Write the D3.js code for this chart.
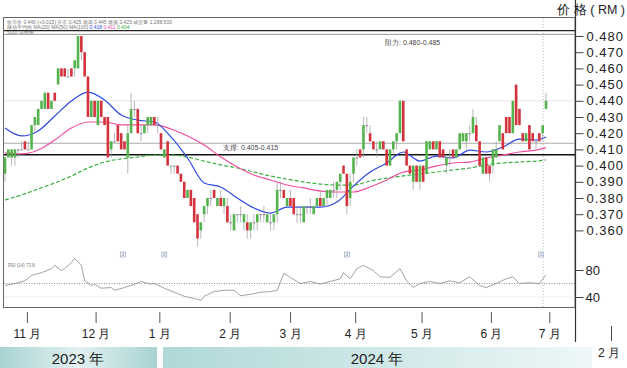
<!DOCTYPE html>
<html><head><meta charset="utf-8">
<script src="https://cdn.jsdelivr.net/npm/d3@7"></script>
<style>
body{margin:0;background:#fff}
svg{display:block}
text{font-family:"Liberation Sans",Arial,sans-serif}
</style>
</head><body>
<svg id="c" width="627" height="368"></svg>
<script>
// ---------- DATA ----------
const openP  = [.395,.405,.405,.405,.41,.41,.415,.41,.41,.425,.425,.435,.435,.445,.435,.445,.45,.46,.46,.455,.46,.46,.46,.48,.47,.455,.43,.44,.425,.44,.43,.43,.41,.415,.425,.42,.415,.405,.42,.435,.435,.42,.42,.425,.425,.43,.425,.42,.405,.415,.40,.40,.40,.395,.39,.38,.385,.38,.37,.36,.37,.375,.38,.385,.375,.38,.375,.375,.365,.36,.37,.37,.365,.365,.36,.365,.365,.37,.37,.365,.365,.365,.37,.385,.385,.375,.38,.38,.37,.37,.365,.375,.375,.37,.375,.38,.375,.38,.38,.385,.385,.39,.40,.395,.38,.395,.405,.41,.41,.425,.42,.415,.41,.41,.415,.41,.40,.41,.415,.42,.44,.41,.40,.39,.40,.39,.40,.395,.41,.415,.41,.415,.41,.40,.405,.41,.405,.41,.415,.415,.42,.42,.425,.415,.395,.405,.40,.40,.405,.415,.42,.43,.43,.42,.45,.435,.42,.415,.425,.42,.415,.42,.42,.435];
const highP  = [.405,.41,.41,.41,.41,.415,.415,.415,.425,.43,.435,.44,.445,.445,.44,.445,.46,.46,.46,.46,.46,.465,.48,.48,.47,.455,.44,.44,.44,.44,.43,.43,.415,.42,.425,.42,.415,.425,.445,.44,.435,.425,.425,.43,.43,.43,.43,.42,.41,.415,.40,.40,.40,.395,.39,.385,.385,.38,.37,.365,.375,.38,.385,.385,.38,.385,.38,.38,.37,.37,.37,.375,.37,.37,.365,.37,.37,.37,.375,.37,.37,.37,.39,.39,.385,.38,.385,.38,.375,.375,.375,.375,.38,.375,.38,.385,.38,.385,.385,.39,.39,.395,.40,.395,.395,.405,.41,.41,.43,.43,.425,.415,.415,.415,.415,.41,.41,.415,.42,.44,.44,.41,.40,.40,.40,.40,.40,.415,.415,.415,.415,.415,.41,.405,.41,.41,.41,.42,.42,.42,.425,.435,.43,.415,.405,.405,.40,.41,.415,.425,.42,.43,.43,.44,.45,.435,.42,.42,.425,.42,.415,.42,.425,.445];
const lowP   = [.39,.405,.40,.40,.405,.41,.41,.41,.41,.42,.425,.435,.435,.435,.435,.44,.45,.455,.455,.455,.455,.455,.46,.465,.455,.43,.43,.43,.425,.43,.425,.405,.405,.415,.415,.41,.41,.395,.42,.43,.42,.415,.42,.42,.425,.425,.42,.41,.405,.40,.395,.395,.395,.39,.38,.38,.375,.365,.35,.355,.365,.37,.375,.38,.375,.375,.37,.365,.36,.36,.365,.365,.36,.355,.355,.36,.36,.365,.365,.365,.36,.36,.365,.38,.38,.375,.375,.37,.365,.365,.365,.37,.37,.37,.375,.375,.375,.375,.38,.38,.38,.385,.395,.37,.375,.39,.40,.405,.405,.42,.415,.41,.405,.41,.41,.40,.40,.405,.41,.42,.415,.40,.395,.385,.39,.385,.39,.395,.41,.41,.41,.405,.405,.395,.40,.405,.405,.41,.415,.41,.415,.42,.415,.40,.395,.395,.39,.395,.405,.415,.41,.42,.42,.42,.425,.425,.415,.415,.41,.415,.41,.415,.415,.435];
const closeP = [.405,.41,.41,.41,.41,.41,.41,.41,.425,.43,.435,.44,.445,.435,.44,.44,.46,.455,.455,.455,.455,.465,.48,.47,.455,.43,.44,.43,.44,.43,.425,.405,.415,.415,.415,.41,.41,.42,.435,.435,.42,.42,.425,.43,.43,.425,.425,.41,.41,.40,.40,.40,.395,.39,.38,.385,.375,.365,.355,.365,.375,.38,.38,.38,.38,.375,.38,.365,.365,.37,.37,.37,.37,.36,.365,.365,.37,.37,.37,.37,.365,.37,.385,.385,.38,.38,.375,.37,.37,.37,.375,.375,.375,.375,.38,.375,.38,.385,.385,.385,.39,.395,.395,.375,.39,.405,.405,.405,.425,.425,.415,.41,.41,.415,.41,.40,.41,.415,.42,.44,.415,.40,.395,.40,.39,.40,.39,.415,.415,.41,.415,.405,.405,.405,.405,.405,.41,.42,.42,.42,.42,.43,.415,.40,.405,.395,.395,.41,.41,.425,.41,.42,.42,.44,.425,.425,.415,.42,.41,.415,.415,.415,.425,.44];

// moving averages, read at trading-day index
const maIdx   = [0,5,10,15,20,25,30,35,40,45,50,55,60,65,70,75,80,85,90,95,100,105,110,115,120,125,130,135,140,145,150,155,160,163];
const maBlue  = [.4232,.4183,.4214,.4306,.4399,.4454,.4405,.4312,.4281,.4269,.4177,.4047,.3893,.3868,.3800,.3738,.3707,.3744,.3744,.3744,.3775,.3874,.3960,.4016,.4084,.4028,.4059,.4047,.4096,.4084,.4115,.4164,.4158,.4177];
const maPink  = [.4078,.4072,.4096,.4158,.4232,.4269,.4269,.4251,.4251,.4251,.4226,.4183,.4127,.4053,.3991,.3942,.3911,.3880,.3862,.3843,.3837,.3837,.3868,.3911,.3960,.3973,.3998,.4016,.4022,.4047,.4065,.4084,.4096,.4109];
const maGreen = [.3788,.3819,.3856,.3893,.3936,.3985,.4022,.4041,.4053,.4065,.4065,.4053,.4028,.4004,.3985,.3960,.3936,.3917,.3899,.3886,.3880,.3880,.3905,.3923,.3936,.3948,.3960,.3973,.3985,.4004,.4016,.4022,.4028,.4035];

// oscillator (lower panel)
const oscIdx = [0,3,6,8,11,14,15,17,18,20,21,23,24,26,27,29,32,33,36,39,41,44,45,48,51,54,57,59,60,63,66,69,71,74,77,80,82,84,86,89,92,95,98,101,102,104,106,108,111,113,116,119,121,123,125,128,131,134,137,140,143,145,148,151,153,155,158,161,163];
const oscVal = [57,60,64,72,76,82,87,79,82,91,97,87,64,57,59,53,54,50,54,59,63,59,60,53,47,41,38,35,41,48,50,50,42,44,47,48,50,75,69,60,63,59,63,67,76,67,82,87,79,70,69,82,64,54,60,63,60,64,61,70,57,54,60,67,70,60,61,60,73];

const priceTicks = [0.48,0.47,0.46,0.45,0.44,0.43,0.42,0.41,0.40,0.39,0.38,0.37,0.36];
const oscTicks = [80,40];
const months = ["11 月","12 月","1 月","2 月","3 月","4 月","5 月","6 月","7 月"];
const monthIdx = [6.6,27.3,46.5,67.7,85.9,105.5,125.5,146.4,164];
const years = ["2023 年","2024 年"];
const resistance = [0.4833,0.481];
const support = [0.4138,0.4067];
const markerIdx = [35.5,48,103,161.5];
const todayIdx = 162;

// ---------- DRAW ----------
const svg = d3.select("#c");
const N = closeP.length;
const x = d3.scaleLinear().domain([0, N-1]).range([5, 546]);
const y = d3.scaleLinear().domain([0.36, 0.48]).range([230.4, 36]);
const yo = d3.scaleLinear().domain([40, 80]).range([297, 270]);

const defs = svg.append("defs");
const g1 = defs.append("linearGradient").attr("id","gy1").attr("x1","0").attr("x2","1");
g1.append("stop").attr("offset","0").attr("stop-color","#a9d3d3");
g1.append("stop").attr("offset","0.5").attr("stop-color","#e3f1f1");
g1.append("stop").attr("offset","1").attr("stop-color","#a9d3d3");
const g2 = defs.append("linearGradient").attr("id","gy2").attr("x1","0").attr("x2","1");
g2.append("stop").attr("offset","0").attr("stop-color","#b0d8d8");
g2.append("stop").attr("offset","1").attr("stop-color","#eef7f7");

// frame
svg.append("rect").attr("x",3.5).attr("y",17.5).attr("width",571.5).attr("height",290)
  .attr("fill","none").attr("stroke","#666").attr("stroke-width",1);
svg.append("line").attr("x1",575.5).attr("x2",575.5).attr("y1",0).attr("y2",342)
  .attr("stroke","#333").attr("stroke-width",1.2);

// faint grid
svg.append("line").attr("x1",4).attr("x2",575).attr("y1",y(0.44)).attr("y2",y(0.44))
  .attr("stroke","#e2e2e2").attr("stroke-width",0.8);
// today dotted line
svg.append("line").attr("x1",x(todayIdx)+0.5).attr("x2",x(todayIdx)+0.5).attr("y1",18).attr("y2",307)
  .attr("stroke","#bbb").attr("stroke-dasharray","1,2");

// legend tiny text
svg.append("text").attr("x",7).attr("y",24).attr("font-size",5).attr("fill","#777")
  .text("收市价 0.440 (+0.015)  开市 0.425  最高 0.445  最低 0.425  成交量 1,288,500");
const lg = svg.append("text").attr("x",7).attr("y",29).attr("font-size",5).attr("fill","#777");
lg.append("tspan").text("移动平均线 MA(20) MA(50) MA(100) ");
lg.append("tspan").attr("fill","#2d4de0").text("0.418 ");
lg.append("tspan").attr("fill","#e8479a").text("0.411 ");
lg.append("tspan").attr("fill","#3cb043").text("0.404");
svg.append("text").attr("x",7).attr("y",34).attr("font-size",4.5).attr("fill","#777").text("5(20) 日线图");

// support / resistance
resistance.forEach((v,k)=>svg.append("line").attr("x1",4).attr("x2",575).attr("y1",y(v)).attr("y2",y(v))
  .attr("stroke",k===0?"#222":"#999").attr("stroke-width",k===0?1.3:1));
support.forEach((v,k)=>svg.append("line").attr("x1",4).attr("x2",575).attr("y1",y(v)).attr("y2",y(v))
  .attr("stroke",k===0?"#aaa":"#111").attr("stroke-width",k===0?1:1.6));
svg.append("text").attr("x",385).attr("y",45).attr("font-size",7).attr("fill","#444").text("阻力: 0.480-0.485");
svg.append("text").attr("x",223).attr("y",150).attr("font-size",7).attr("fill","#444").text("支撑: 0.405-0.415");

// moving averages
const maLine = d3.line().x(d=>x(d[0])).y(d=>y(d[1])).curve(d3.curveMonotoneX);
svg.append("path").attr("d",maLine(maIdx.map((d,k)=>[d,maGreen[k]]))).attr("fill","none")
  .attr("stroke","#3cb043").attr("stroke-width",1.2).attr("stroke-dasharray","4,2");
svg.append("path").attr("d",maLine(maIdx.map((d,k)=>[d,maPink[k]]))).attr("fill","none")
  .attr("stroke","#ee4f9f").attr("stroke-width",1.2);
svg.append("path").attr("d",maLine(maIdx.map((d,k)=>[d,maBlue[k]]))).attr("fill","none")
  .attr("stroke","#2c48e6").attr("stroke-width",1.2);

// candles
const cg = svg.append("g");
d3.range(N).forEach(i=>{
  const o=openP[i], c=closeP[i], h=highP[i], l=lowP[i];
  const col = c>o ? "#55b34e" : (c<o ? "#d4333e" : "#8a8a8a");
  cg.append("line").attr("x1",x(i)).attr("x2",x(i)).attr("y1",y(h)).attr("y2",y(l))
    .attr("stroke","#9a9a9a").attr("stroke-width",0.7);
  const top = y(Math.max(o,c)), bot = y(Math.min(o,c));
  cg.append("rect").attr("x",x(i)-1.3).attr("width",2.6)
    .attr("y",top).attr("height",Math.max(1,bot-top)).attr("fill",col);
});

// markers
markerIdx.forEach(m=>{
  svg.append("rect").attr("x",x(m)-2.5).attr("y",252).attr("width",5).attr("height",5)
    .attr("fill","none").attr("stroke","#9aa7c0").attr("stroke-width",0.7);
  svg.append("text").attr("x",x(m)).attr("y",256.3).attr("text-anchor","middle")
    .attr("font-size",4.5).attr("fill","#7785a8").text("d");
});

// oscillator
svg.append("line").attr("x1",4).attr("x2",575).attr("y1",yo(60)).attr("y2",yo(60))
  .attr("stroke","#777").attr("stroke-dasharray","1,1.5").attr("stroke-width",0.8);
svg.append("line").attr("x1",4).attr("x2",575).attr("y1",yo(40)).attr("y2",yo(40))
  .attr("stroke","#e6e6e6").attr("stroke-width",0.6);
svg.append("path").attr("d",d3.line().x(d=>x(d[0])).y(d=>yo(d[1]))(oscIdx.map((d,k)=>[d,oscVal[k]])))
  .attr("fill","none").attr("stroke","#8a8a8a").attr("stroke-width",0.8);
svg.append("text").attr("x",8).attr("y",267).attr("font-size",4.5).attr("fill","#777").text("RSI (14) 73.8");

// right price axis
const ay = svg.append("g").attr("transform","translate(575.5,0)")
  .call(d3.axisRight(y).tickValues(priceTicks).tickSize(8).tickPadding(3).tickFormat(d3.format(".3f")));
ay.select(".domain").remove();
ay.selectAll("line").attr("stroke","#444");
ay.selectAll("text").attr("font-size",13).attr("fill","#222").attr("letter-spacing","1px")
  .attr("font-family","Liberation Sans, Arial, sans-serif");
const ao = svg.append("g").attr("transform","translate(575.5,0)")
  .call(d3.axisRight(yo).tickValues(oscTicks).tickSize(8).tickPadding(2));
ao.select(".domain").remove();
ao.selectAll("line").attr("stroke","#444");
ao.selectAll("text").attr("font-size",13).attr("fill","#222").attr("font-family","Liberation Sans, Arial, sans-serif");

svg.append("text").attr("x",625).attr("y",14).attr("text-anchor","end").attr("font-size",12.5).attr("fill","#222")
  .attr("font-family","Noto Sans CJK SC, sans-serif").text("价 格 ( RM )");

// month axis
const ax = svg.append("g").attr("transform","translate(0,312)")
  .call(d3.axisBottom(x).tickValues(monthIdx).tickSize(11).tickPadding(6).tickFormat((d,k)=>months[k]));
ax.select(".domain").remove();
ax.selectAll("line").attr("stroke","#555");
ax.selectAll("text").attr("font-size",12).attr("fill","#222").attr("font-family","Noto Sans CJK SC, sans-serif");

// year bars
svg.append("rect").attr("x",0).attr("y",347).attr("width",157).attr("height",21).attr("fill","url(#gy1)");
svg.append("rect").attr("x",163).attr("y",347).attr("width",429).attr("height",21).attr("fill","url(#gy2)");
svg.append("text").attr("x",78).attr("y",364).attr("text-anchor","middle").attr("font-size",15).attr("fill","#222")
  .attr("font-family","Noto Sans CJK SC, sans-serif").text(years[0]);
svg.append("text").attr("x",377).attr("y",364).attr("text-anchor","middle").attr("font-size",15).attr("fill","#222")
  .attr("font-family","Noto Sans CJK SC, sans-serif").text(years[1]);
svg.append("line").attr("x1",611.5).attr("x2",611.5).attr("y1",326).attr("y2",341).attr("stroke","#444");
svg.append("text").attr("x",598).attr("y",357).attr("font-size",12).attr("fill","#222")
  .attr("font-family","Noto Sans CJK SC, sans-serif").text("2 月");
</script>
</body></html>
